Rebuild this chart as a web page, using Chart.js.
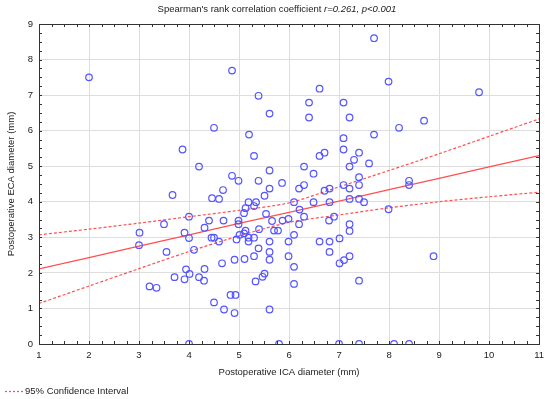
<!DOCTYPE html>
<html>
<head>
<meta charset="utf-8">
<script src="https://cdn.jsdelivr.net/npm/chart.js@4.4.0/dist/chart.umd.min.js"></script>
<style>
  html, body { margin: 0; padding: 0; background: #fff; }
  #wrap { width: 550px; height: 399px; }
</style>
</head>
<body>
<div id="wrap"><canvas id="grafica" width="550" height="399"></canvas></div>
<script>
// Datos: diametro ICA (x) y diametro ECA (y), en mm
const icaDiameter = [
  2.00, 3.87, 4.20, 7.70, 4.86, 5.39, 6.40, 7.09, 6.61, 5.61, 6.40, 7.21, 4.50, 5.20, 7.09, 7.70,
  5.30, 7.09, 6.61, 6.71, 7.40, 7.30, 7.21, 7.60, 6.30, 6.49, 5.61, 4.86, 7.40, 4.99, 5.39, 7.99,
  9.80, 8.20, 8.70, 8.40, 8.40, 7.99, 8.89, 4.00, 5.80, 7.00, 7.40, 8.10, 8.40, 3.67, 4.00, 4.40,
  3.50, 3.01, 3.91, 4.31, 4.00, 3.00, 3.55, 4.10, 3.94, 4.31, 3.71, 3.91, 4.01, 4.20, 4.30, 3.21,
  3.35, 5.86, 5.61, 4.68, 5.51, 4.46, 4.60, 5.19, 5.34, 6.30, 6.20, 7.09, 7.40, 7.21, 6.71, 6.81,
  6.10, 6.49, 6.81, 7.21, 7.40, 7.50, 5.13, 5.10, 5.30, 5.54, 4.69, 4.99, 4.99, 5.66, 4.45, 4.50,
  4.60, 5.13, 5.10, 5.40, 5.01, 4.95, 5.19, 5.19, 5.30, 5.61, 5.70, 5.78, 5.87, 5.99, 5.99, 5.99,
  5.39, 5.61, 5.61, 5.30, 5.11, 4.91, 4.66, 5.51, 5.47, 5.33, 4.83, 4.93, 4.50, 4.70, 4.91, 5.61,
  6.21, 6.30, 6.20, 6.80, 6.90, 7.21, 7.21, 6.10, 6.61, 6.81, 7.01, 6.81, 6.10, 7.01, 7.10, 7.21,
  6.10, 7.40
];
const ecaDiameter = [
  7.50, 5.47, 4.99, 8.60, 7.69, 6.98, 6.79, 6.79, 7.18, 6.48, 6.37, 6.37, 6.08, 5.89, 5.79, 5.89,
  5.29, 5.47, 5.29, 5.38, 5.38, 5.18, 4.99, 5.08, 4.99, 4.79, 4.88, 4.73, 4.69, 4.59, 4.59, 7.38,
  7.08, 6.08, 6.28, 4.59, 4.47, 3.79, 2.47, 0.00, 0.00, 0.00, 0.00, 0.00, 0.00, 4.19, 3.58, 3.47,
  3.37, 3.13, 3.13, 3.27, 2.98, 2.78, 2.59, 2.65, 2.10, 2.11, 1.88, 1.82, 1.97, 1.88, 1.78, 1.62,
  1.58, 4.53, 4.37, 4.33, 4.17, 4.10, 4.08, 3.99, 3.99, 4.47, 4.37, 4.47, 4.47, 4.37, 4.31, 4.37,
  3.99, 3.99, 3.99, 4.08, 4.08, 3.99, 3.82, 3.68, 3.88, 3.66, 3.47, 3.47, 3.37, 3.46, 2.99, 2.99,
  2.88, 3.19, 3.11, 3.23, 3.07, 2.94, 2.88, 2.99, 2.99, 2.88, 3.19, 3.19, 3.47, 3.52, 2.88, 2.47,
  2.69, 2.59, 2.37, 2.47, 2.39, 2.37, 2.27, 1.98, 1.89, 1.76, 1.38, 1.38, 1.17, 0.97, 0.87, 0.97,
  3.78, 3.58, 3.37, 3.47, 3.58, 3.37, 3.18, 3.07, 2.88, 2.88, 2.97, 2.59, 2.17, 2.27, 2.36, 2.47,
  1.69, 1.78
];

const lineX = [1, 2, 3, 4, 5, 6, 7, 8, 9, 10, 11];
const fitY = [2.11, 2.43, 2.75, 3.07, 3.39, 3.70, 4.02, 4.34, 4.66, 4.98, 5.30];
const ciUpper = [3.07, 3.23, 3.40, 3.58, 3.76, 3.97, 4.42, 4.88, 5.35, 5.84, 6.33];
const ciLower = [1.14, 1.63, 2.12, 2.60, 3.04, 3.42, 3.63, 3.83, 4.00, 4.14, 4.27];

const titleMain = "Spearman's rank correlation coefficient ";
const titleStats = "r=0.261, p<0.001";
const ciLabel = '95% Confidence Interval';

const fontFamily = '"Liberation Sans", Arial, sans-serif';
const textColor = '#222';
const pointColor = 'rgb(85,85,255)';
const lineColor = 'rgb(255,80,80)';

const toXY = (xs, ys) => xs.map((x, i) => ({ x: x, y: ys[i] }));

// Marco del area del grafico, marcas menores hacia dentro, titulo mixto y leyenda
const marcoPlugin = {
    id: 'marco',
    afterDatasetsDraw(chart) {
        const { ctx, chartArea: a, scales } = chart;
        ctx.save();
        ctx.strokeStyle = '#333';
        ctx.lineWidth = 1;
        ctx.beginPath();
        for (let v = 1; v <= 11.0001; v += 0.25) {
            const px = Math.round(scales.x.getPixelForValue(v)) + 0.5;
            ctx.moveTo(px, a.top); ctx.lineTo(px, a.top + 3);
            ctx.moveTo(px, a.bottom); ctx.lineTo(px, a.bottom - 3);
        }
        for (let v = 0; v <= 9.0001; v += 0.25) {
            const py = Math.round(scales.y.getPixelForValue(v)) + 0.5;
            ctx.moveTo(a.left, py); ctx.lineTo(a.left + 3, py);
            ctx.moveTo(a.right, py); ctx.lineTo(a.right - 3, py);
        }
        ctx.stroke();
        ctx.strokeRect(Math.round(a.left) + 0.5, Math.round(a.top) + 0.5,
            Math.round(a.right - a.left), Math.round(a.bottom - a.top));
        ctx.restore();
    },
    afterDraw(chart) {
        const ctx = chart.ctx;
        ctx.save();
        ctx.fillStyle = textColor;
        ctx.textBaseline = 'alphabetic';
        ctx.font = '9.5px ' + fontFamily;
        const w1 = ctx.measureText(titleMain).width;
        ctx.font = 'italic 9.5px ' + fontFamily;
        const w2 = ctx.measureText(titleStats).width;
        const x0 = 277 - (w1 + w2) / 2;
        ctx.font = '9.5px ' + fontFamily;
        ctx.fillText(titleMain, x0, 12);
        ctx.font = 'italic 9.5px ' + fontFamily;
        ctx.fillText(titleStats, x0 + w1, 12);

        // leyenda: solo la banda de confianza
        const ds = chart.data.datasets[2];
        ctx.strokeStyle = ds.borderColor;
        ctx.lineWidth = 1.2;
        ctx.setLineDash([2, 2]);
        ctx.beginPath();
        ctx.moveTo(5, 391.5);
        ctx.lineTo(23, 391.5);
        ctx.stroke();
        ctx.setLineDash([]);
        ctx.font = '9.5px ' + fontFamily;
        ctx.textBaseline = 'middle';
        ctx.fillText(ds.label, 25, 391);
        ctx.restore();
    }
};

const ctx = document.getElementById('grafica').getContext('2d');
window.myChart = new Chart(ctx, {
    type: 'scatter',
    data: {
        datasets: [{
            label: 'Puntos',
            data: toXY(icaDiameter, ecaDiameter),
            pointStyle: 'circle',
            pointRadius: 3.3,
            pointBorderWidth: 1.2,
            borderColor: pointColor,
            backgroundColor: 'rgba(0,0,0,0)',
            showLine: false
        }, {
            label: 'Regresion',
            data: toXY(lineX, fitY),
            showLine: true,
            borderColor: lineColor,
            borderWidth: 1.3,
            pointRadius: 0
        }, {
            label: ciLabel,
            data: toXY(lineX, ciUpper),
            showLine: true,
            borderColor: lineColor,
            borderWidth: 1.2,
            borderDash: [3, 2],
            tension: 0.3,
            pointRadius: 0
        }, {
            label: 'CI inferior',
            data: toXY(lineX, ciLower),
            showLine: true,
            borderColor: lineColor,
            borderWidth: 1.2,
            borderDash: [3, 2],
            tension: 0.3,
            pointRadius: 0
        }]
    },
    options: {
        responsive: false,
        animation: false,
        devicePixelRatio: 1,
        layout: { padding: { top: 24, right: 9, left: 0, bottom: 21 } },
        plugins: {
            tooltip: { enabled: false },
            legend: { display: false }
        },
        scales: {
            x: {
                type: 'linear',
                min: 1,
                max: 11,
                afterFit: scale => { scale.height = 34; },
                border: { display: false },
                grid: { color: '#dddddd', drawTicks: false },
                ticks: {
                    stepSize: 1,
                    padding: 6,
                    color: textColor,
                    font: { family: fontFamily, size: 9.5 }
                },
                title: {
                    display: true,
                    text: 'Postoperative ICA diameter (mm)',
                    color: textColor,
                    padding: { top: 0, bottom: 0 },
                    font: { family: fontFamily, size: 9.5 }
                }
            },
            y: {
                type: 'linear',
                min: 0,
                max: 9,
                afterFit: scale => { scale.width = 39; },
                border: { display: false },
                grid: { color: '#dddddd', drawTicks: false },
                ticks: {
                    stepSize: 1,
                    padding: 6,
                    color: textColor,
                    font: { family: fontFamily, size: 9.5 }
                },
                title: {
                    display: true,
                    text: 'Postoperative ECA diameter (mm)',
                    color: textColor,
                    padding: { top: 6, bottom: 0 },
                    font: { family: fontFamily, size: 9.5 }
                }
            }
        }
    },
    plugins: [marcoPlugin]
});
</script>
</body>
</html>
